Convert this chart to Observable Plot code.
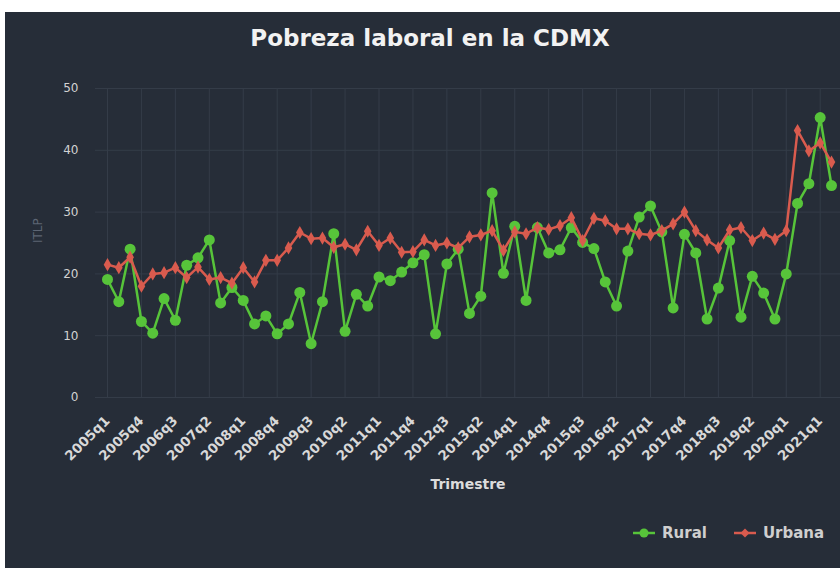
<!DOCTYPE html>
<html>
<head>
<meta charset="utf-8">
<script src="https://cdn.jsdelivr.net/npm/d3@7"></script>
<script src="https://cdn.jsdelivr.net/npm/@observablehq/plot@0.6"></script>
<style>
  html, body { margin: 0; padding: 0; background: #ffffff; }
  #wrap { position: relative; width: 840px; height: 568px; overflow: hidden; font-family: "DejaVu Sans", sans-serif; }
  #panel { position: absolute; left: 5px; top: 12px; right: 0; bottom: 0; background: #262d38; }
  #title { position: absolute; top: 25px; left: 5px; width: 850px; text-align: center; color: #f2f2f2; font-size: 23px; font-weight: bold; }
  #chart { position: absolute; left: 0; top: 70px; }
  #legend { position: absolute; top: 524px; left: 633px; display: flex; align-items: center; color: #cfcfcf; font-size: 15px; font-weight: bold; }
  #legend .item { display: flex; align-items: center; margin-right: 27px; }
  #legend svg { margin-right: 7px; }
</style>
</head>
<body>
<div id="wrap">
  <div id="panel"></div>
  <div id="title">Pobreza laboral en la CDMX</div>
  <div id="chart"></div>
  <div id="legend"></div>
</div>
<script>
const quarters = [
  "2005q1","2005q2","2005q3","2005q4","2006q1","2006q2","2006q3","2006q4",
  "2007q1","2007q2","2007q3","2007q4","2008q1","2008q2","2008q3","2008q4",
  "2009q1","2009q2","2009q3","2009q4","2010q1","2010q2","2010q3","2010q4",
  "2011q1","2011q2","2011q3","2011q4","2012q1","2012q2","2012q3","2012q4",
  "2013q1","2013q2","2013q3","2013q4","2014q1","2014q2","2014q3","2014q4",
  "2015q1","2015q2","2015q3","2015q4","2016q1","2016q2","2016q3","2016q4",
  "2017q1","2017q2","2017q3","2017q4","2018q1","2018q2","2018q3","2018q4",
  "2019q1","2019q2","2019q3","2019q4","2020q1","2020q3","2020q4","2021q1","2021q2"
];
const rural = [
  19.1,15.5,24.0,12.3,10.4,16.0,12.5,21.4,22.6,25.5,15.3,17.8,15.7,
  11.9,13.2,10.3,11.9,17.0,8.7,15.5,26.5,10.7,16.7,14.8,19.5,18.9,
  20.3,21.8,23.1,10.3,21.6,24.0,13.6,16.4,33.1,20.1,27.7,15.7,27.5,
  23.4,23.9,27.5,25.1,24.1,18.7,14.8,23.7,29.2,31.0,26.8,14.5,26.4,
  23.4,12.7,17.7,25.4,13.0,19.6,16.9,12.7,20.0,31.4,34.6,45.3,34.3
];
const urbana = [
  21.5,21.0,22.7,18.0,20.0,20.2,21.0,19.4,21.1,19.1,19.4,18.5,21.0,
  18.7,22.2,22.2,24.2,26.7,25.7,25.8,24.3,24.8,23.9,26.9,24.6,25.8,
  23.5,23.6,25.5,24.6,25.0,24.2,26.0,26.3,27.0,23.8,26.8,26.5,27.5,
  27.2,27.8,29.1,25.4,29.0,28.6,27.3,27.3,26.5,26.3,27.0,28.1,30.0,
  27.0,25.5,24.2,27.1,27.5,25.4,26.6,25.6,27.0,43.2,39.9,41.2,38.1
];
const xTicks = ["2005q1","2005q4","2006q3","2007q2","2008q1","2008q4","2009q3","2010q2",
  "2011q1","2011q4","2012q3","2013q2","2014q1","2014q4","2015q3","2016q2","2017q1",
  "2017q4","2018q3","2019q2","2020q1","2021q1"];
const yTicks = [0, 10, 20, 30, 40, 50];
const seriesNames = ["Rural", "Urbana"];
const colors = ["#57c43a", "#d95b4e"];

// x position = index of the quarter in the category list
const ruralRows = quarters.map((q, i) => ({i, q, v: rural[i]}));
const urbanRows = quarters.map((q, i) => ({i, q, v: urbana[i]}));
const xTickIdx = xTicks.map(t => quarters.indexOf(t));

const grid = "#343c48";
const chart = Plot.plot({
  width: 840,
  height: 440,
  marginTop: 18,
  marginBottom: 113,
  marginLeft: 95,
  marginRight: 0,
  style: {background: "transparent", fontFamily: "DejaVu Sans, sans-serif", overflow: "visible"},
  x: {type: "linear", domain: [0, quarters.length - 1], range: [107, 831], axis: null},
  y: {domain: [0, 50], axis: null},
  marks: [
    Plot.ruleY(yTicks, {stroke: grid, strokeWidth: 1}),
    Plot.ruleX(xTickIdx, {stroke: grid, strokeWidth: 1}),
    Plot.axisY({ticks: yTicks, tickSize: 0, tickPadding: 17, label: null, fontSize: 12, color: "#d2d2d2"}),
    Plot.axisX({ticks: xTickIdx, tickFormat: i => quarters[i], tickSize: 0, tickRotate: -45, tickPadding: 21, label: null, fontSize: 13.5, fontWeight: "bold", color: "#d8d8d8"}),
    Plot.text(["ITLP"], {frameAnchor: "left", rotate: -90, dx: -57, fill: "#5d6573", fontSize: 12}),
    Plot.text(["Trimestre"], {frameAnchor: "bottom", dy: 91, fill: "#dcdcdc", fontSize: 14, fontWeight: "bold"}),
    Plot.line(ruralRows, {x: "i", y: "v", stroke: colors[0], strokeWidth: 2.5}),
    Plot.dot(ruralRows, {x: "i", y: "v", fill: colors[0], r: 5.5, symbol: "circle"}),
    Plot.line(urbanRows, {x: "i", y: "v", stroke: colors[1], strokeWidth: 2.5}),
    Plot.dot(urbanRows, {x: "i", y: "v", fill: colors[1], r: 4, symbol: "diamond"})
  ]
});
document.getElementById("chart").appendChild(chart);

const legend = document.getElementById("legend");
seriesNames.forEach((name, i) => {
  const item = document.createElement("div");
  item.className = "item";
  const marker = i === 0
    ? `<circle cx="11" cy="6" r="4.5" fill="${colors[i]}"/>`
    : `<path d="M11,1.5 L15.5,6 L11,10.5 L6.5,6 Z" fill="${colors[i]}"/>`;
  item.innerHTML = `<svg width="22" height="12"><line x1="0" y1="6" x2="22" y2="6" stroke="${colors[i]}" stroke-width="2.5"/>${marker}</svg><span>${name}</span>`;
  legend.appendChild(item);
});
</script>
</body>
</html>
